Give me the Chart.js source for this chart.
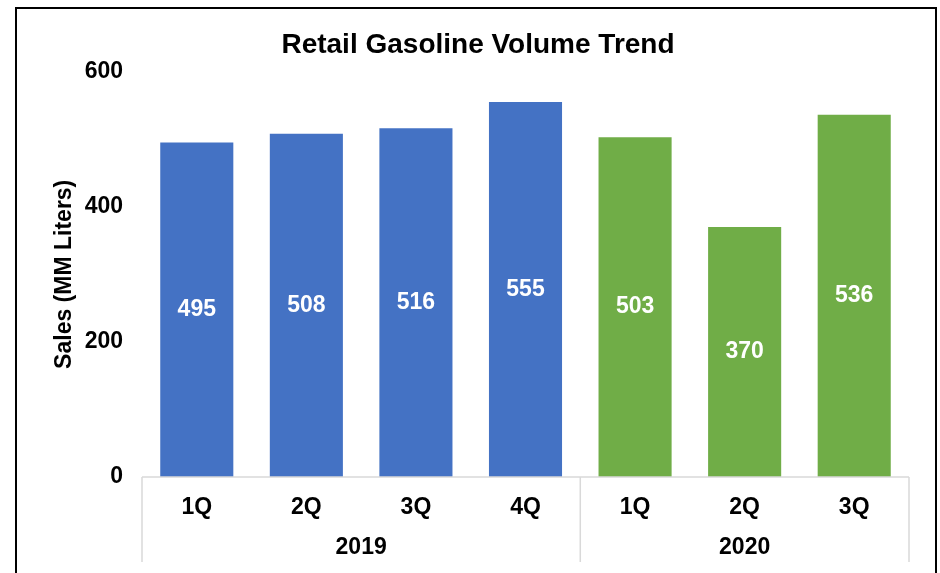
<!DOCTYPE html>
<html>
<head>
<meta charset="utf-8">
<script src="https://cdn.jsdelivr.net/npm/chart.js@4"></script>
<style>
  body { margin: 0; background: #fff; }
  .frame { position: absolute; left: 15px; top: 7px; width: 922px; height: 620px; border: 2px solid #000; box-sizing: border-box; }
  .wrap { position: absolute; left: 0; top: 0; width: 940px; height: 573px; }
</style>
</head>
<body>
<div class="frame"></div>
<div class="wrap"><canvas id="myChart" width="940" height="573"></canvas></div>
<script>
const quarters = ["1Q", "2Q", "3Q", "4Q", "1Q", "2Q", "3Q"];
const sales = [495, 508, 516, 555, 503, 370, 536];
const years = ["2019", "2020"];
const yearSpans = [4, 3]; // how many quarters each year covers
const yTicks = [0, 200, 400, 600];

const blue = "#4472C4";
const green = "#70AD47";
const barColors = sales.map((v, i) => i < yearSpans[0] ? blue : green);

const FONT = "'Liberation Sans', Arial, sans-serif";

// white value labels in the middle of each bar
const barLabels = {
  id: "barLabels",
  afterDatasetsDraw(chart) {
    const ctx = chart.ctx;
    const meta = chart.getDatasetMeta(0);
    ctx.save();
    ctx.fillStyle = "#fff";
    ctx.font = "bold 23px " + FONT;
    ctx.textAlign = "center";
    ctx.textBaseline = "middle";
    meta.data.forEach((bar, i) => {
      ctx.fillText(String(sales[i]), bar.x, (bar.y + bar.base) / 2);
    });
    ctx.restore();
  }
};

// axis line, year separators and year labels under the quarters
const yearAxis = {
  id: "yearAxis",
  afterDraw(chart) {
    const ctx = chart.ctx;
    const x = chart.scales.x;
    const top = chart.chartArea.bottom;
    const bottom = 562;
    ctx.save();
    ctx.strokeStyle = "#d9d9d9";
    ctx.lineWidth = 1.5;
    ctx.beginPath();
    ctx.moveTo(x.left, top);
    ctx.lineTo(x.right, top);
    ctx.stroke();

    let edges = [x.left];
    let idx = 0;
    yearSpans.forEach((n) => {
      idx += n;
      if (idx < quarters.length) {
        edges.push((x.getPixelForValue(idx - 1) + x.getPixelForValue(idx)) / 2);
      } else {
        edges.push(x.right);
      }
    });
    ctx.beginPath();
    edges.forEach((e) => {
      ctx.moveTo(e, top);
      ctx.lineTo(e, bottom);
    });
    ctx.stroke();

    ctx.fillStyle = "#000";
    ctx.font = "bold 23px " + FONT;
    ctx.textAlign = "center";
    ctx.textBaseline = "middle";
    years.forEach((y, i) => {
      ctx.fillText(y, (edges[i] + edges[i + 1]) / 2, 548);
    });
    ctx.restore();
  }
};

new Chart(document.getElementById("myChart"), {
  type: "bar",
  data: {
    labels: quarters,
    datasets: [{
      label: "Sales",
      data: sales,
      backgroundColor: barColors,
      categoryPercentage: 0.667,
      barPercentage: 1
    }]
  },
  options: {
    responsive: false,
    animation: false,
    layout: { padding: { left: 47, right: 31, top: 0, bottom: 0 } },
    plugins: {
      legend: { display: false },
      tooltip: { enabled: false },
      title: {
        display: true,
        text: "Retail Gasoline Volume Trend",
        color: "#000",
        font: { family: FONT, size: 28, weight: "bold" },
        padding: { top: 28, bottom: 10 }
      }
    },
    scales: {
      x: {
        grid: { display: false },
        border: { display: false },
        ticks: { color: "#000", padding: 9, font: { family: FONT, size: 23, weight: "bold" } },
        afterFit(scale) { scale.height = 96; }
      },
      y: {
        min: 0,
        max: 600,
        afterBuildTicks(scale) { scale.ticks = yTicks.map((v) => ({ value: v })); },
        grid: { display: false },
        border: { display: false },
        ticks: { color: "#000", padding: 11, font: { family: FONT, size: 23, weight: "bold" } },
        title: {
          display: true,
          text: "Sales (MM Liters)",
          color: "#000",
          padding: { top: 4, bottom: 0 },
          font: { family: FONT, size: 23, weight: "bold" }
        },
        afterFit(scale) { scale.width = 95; }
      }
    }
  },
  plugins: [barLabels, yearAxis]
});
</script>
</body>
</html>
